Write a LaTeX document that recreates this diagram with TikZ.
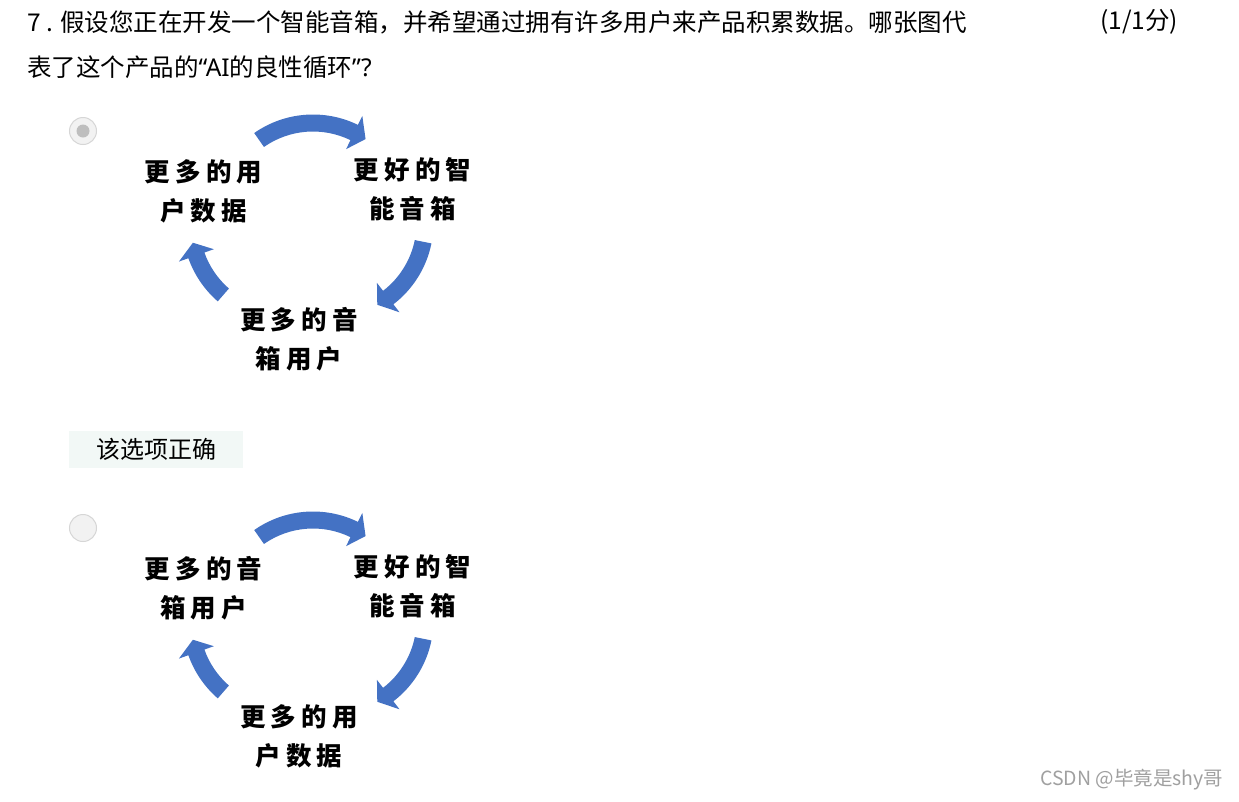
\documentclass[tikz,border=0pt]{standalone}
\usepackage{fontspec}
\setmainfont{Noto Sans CJK SC}
\newfontfamily\latinfont{Noto Sans}
\newfontfamily\cyclefont[LetterSpace=20]{Noto Sans CJK SC}
\usetikzlibrary{positioning, calc}
\definecolor{cycleblue}{RGB}{68,114,196}
\definecolor{radioedge}{RGB}{214,214,214}
\definecolor{radiofill}{RGB}{242,242,242}
\definecolor{radiodot}{RGB}{190,190,190}
\definecolor{okfill}{RGB}{242,248,246}
\definecolor{markgray}{RGB}{160,160,160}

% curved block arrow: centre (x,y), tail angle, head base angle, tip angle
\newcommand{\cyclearrow}[5]{%
  \begin{scope}[shift={(#1,#2)}, y=1pt]
    \fill[cycleblue] (#3:102.5) arc[start angle=#3, end angle=#4, radius=102.5]
      -- (#4:112.5) -- (#5:94) -- (#4:75.5) -- (#4:85.5)
      arc[start angle=#4, end angle=#3, radius=85.5] -- cycle;
  \end{scope}}

\begin{document}
\begin{tikzpicture}[
    x=1pt, y=-1pt,
    qtext/.style={anchor=west, inner sep=0pt, font=\fontsize{24.5}{30}\selectfont},
    cyclelabel/.style={align=center, inner sep=0pt, font=\cyclefont\bfseries\fontsize{25.5}{39}\selectfont},
    radio/.style={circle, draw=radioedge, fill=radiofill, line width=1pt, minimum size=27pt, inner sep=0pt},
    okbox/.style={rectangle, fill=okfill, minimum width=174pt, minimum height=37pt, inner sep=0pt, font=\fontsize{24}{30}\selectfont}
]
    \useasboundingbox[fill=white] (0,0) rectangle (1239,801);

    % question
    \node[qtext] (q1) at (27,22) {7 . 假设您正在开发一个智能音箱，并希望通过拥有许多用户来产品积累数据。哪张图代};
    \node[qtext] (q2) at (27,67) {表了这个产品的{\latinfont“AI}的良性循环{\latinfont”?}};
    \node[qtext] (score) at (1100,22) {(1/1分)};

    % option A
    \node[radio] (optA) at (83,131) {};
    \fill[radiodot] (optA.center) circle[radius=6.5];
    \node[cyclelabel] (dataA) at (203.5,191) {更多的用\\户数据};
    \node[cyclelabel] (speakerA) at (412.5,189) {更好的智\\能音箱};
    \node[cyclelabel] (usersA) at (299,339) {更多的音\\箱用户};
    \cyclearrow{313}{217}{125}{64}{56}
    \cyclearrow{331}{223}{-11.5}{-52.5}{-60.5}
    \cyclearrow{285}{224}{229}{199.5}{191.5}

    \node[okbox] (ok) at (156,449.5) {该选项正确};

    % option B
    \node[radio] (optB) at (83,528) {};
    \begin{scope}[shift={(0,397)}]
        \node[cyclelabel] (usersB) at (203.5,191) {更多的音\\箱用户};
        \node[cyclelabel] (speakerB) at (412.5,189) {更好的智\\能音箱};
        \node[cyclelabel] (dataB) at (299,339) {更多的用\\户数据};
        \cyclearrow{313}{217}{125}{64}{56}
        \cyclearrow{331}{223}{-11.5}{-52.5}{-60.5}
        \cyclearrow{285}{224}{229}{199.5}{191.5}
    \end{scope}

    \node[anchor=west, inner sep=0pt, text=markgray, font=\fontsize{19.5}{22}\selectfont] (mark) at (1040,780) {CSDN @毕竟是shy哥};
\end{tikzpicture}
\end{document}
